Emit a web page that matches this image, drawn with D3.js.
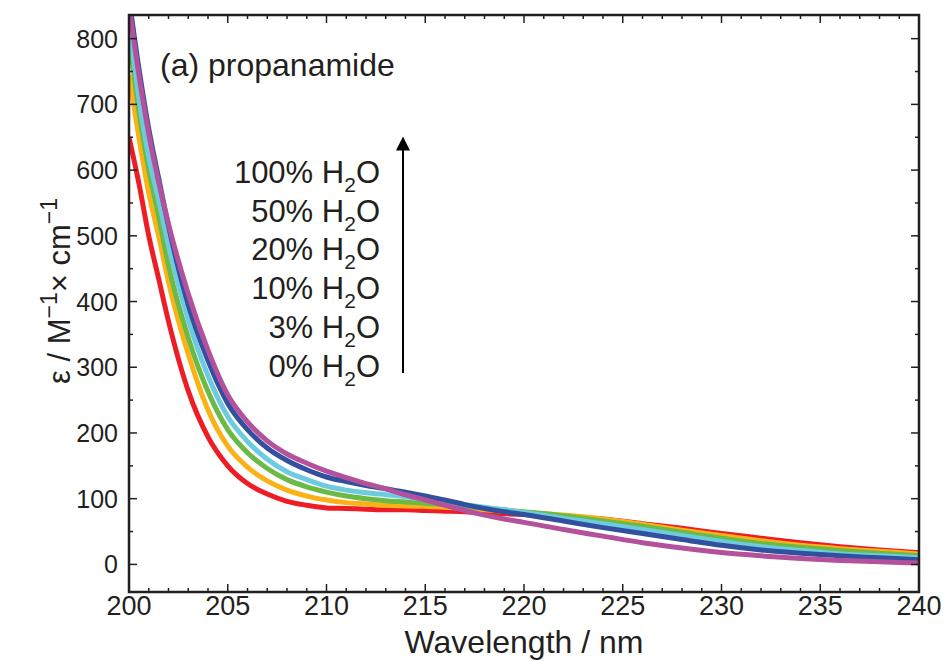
<!DOCTYPE html>
<html>
<head>
<meta charset="utf-8">
<script src="https://cdn.jsdelivr.net/npm/d3@7"></script>
<style>
  body { margin: 0; background: #fff; }
  svg { display: block; font-family: "Liberation Sans", Arial, sans-serif; }
</style>
</head>
<body>
<div id="chart"></div>
<script>
const width = 948;
const height = 661;

// wavelength (nm)
const wavelengths = [200, 200.5, 201, 201.5, 202, 203, 204, 205, 206, 207, 208, 209, 210, 211, 212, 213, 214, 215, 216, 217, 218, 219, 220, 222, 224, 226, 228, 230, 232, 234, 236, 238, 240];

// epsilon values, one array per water content
const water0 = [650, 580, 500, 435, 370, 264, 194, 150, 123, 107, 96, 90, 86, 85, 84, 83, 83, 82, 81, 80, 78, 77, 76, 73, 69, 62, 55, 47, 40, 33, 27, 22, 18];
const water3 = [745, 650, 565, 500, 430, 320, 235, 180, 148, 127, 113, 104, 98, 94, 92, 90, 89, 88, 87, 85, 83, 81, 79, 75, 69, 61, 52, 44, 36, 29, 24, 20, 16];
const water10 = [805, 690, 600, 530, 455, 345, 263, 205, 170, 146, 129, 118, 110, 104, 100, 97, 95, 93, 91, 88, 86, 83, 80, 74, 66, 58, 49, 40, 32, 26, 21, 17, 13];
const water20 = [830, 710, 620, 555, 485, 372, 287, 225, 187, 160, 141, 129, 119, 113, 109, 106, 103, 99, 95, 91, 87, 83, 79, 70, 62, 53, 44, 35, 27, 21, 16, 13, 10];
const water50 = [862, 755, 663, 588, 515, 395, 310, 245, 205, 177, 158, 144, 133, 126, 120, 115, 110, 104, 98, 91, 85, 80, 76, 66, 56, 47, 38, 29, 22, 17, 13, 10, 7];
const water100 = [850, 745, 655, 582, 518, 412, 326, 258, 217, 188, 168, 154, 142, 132, 123, 115, 106, 98, 90, 82, 75, 69, 64, 53, 43, 33, 25, 18, 13, 9, 6, 4, 2];

const seriesNames = ["0%", "3%", "10%", "20%", "50%", "100%"];
const seriesColors = ["#ee1c25", "#fbb216", "#6bba45", "#6dcbe0", "#33509f", "#b4519c"];
const seriesValues = [water0, water3, water10, water20, water50, water100];

const legendLabels = ["100%", "50%", "20%", "10%", "3%", "0%"];

const xTicks = [200, 205, 210, 215, 220, 225, 230, 235, 240];
const yTicks = [0, 100, 200, 300, 400, 500, 600, 700, 800];

const ink = "#231f20";

const svg = d3.select("#chart")
  .append("svg")
  .attr("width", width)
  .attr("height", height);

const x = d3.scaleLinear().domain([200, 240]).range([129, 919]);
const y = d3.scaleLinear().domain([-42, 836]).range([592, 15]);

const [x0, x1] = x.range();
const [y0, y1] = y.range();

svg.append("clipPath")
  .attr("id", "plot-clip")
  .append("rect")
  .attr("x", x0)
  .attr("y", y1)
  .attr("width", x1 - x0)
  .attr("height", y0 - y1);

// curves
const line = d3.line()
  .x(d => x(d.wl))
  .y(d => y(d.v))
  .curve(d3.curveMonotoneX);

const curves = svg.append("g").attr("clip-path", "url(#plot-clip)");

seriesValues.forEach((values, i) => {
  const data = wavelengths.map((wl, j) => ({ wl, v: values[j] }));
  curves.append("path")
    .datum(data)
    .attr("fill", "none")
    .attr("stroke", seriesColors[i])
    .attr("stroke-width", 5)
    .attr("stroke-linejoin", "round")
    .attr("d", line);
});

// ticks on all four sides, pointing inward
const ticksG = svg.append("g").attr("stroke", ink).attr("stroke-width", 1.5);

d3.range(200, 241, 1).forEach(v => {
  const len = v % 5 === 0 ? 8 : 4;
  ticksG.append("line").attr("x1", x(v)).attr("x2", x(v)).attr("y1", y0).attr("y2", y0 - len);
  ticksG.append("line").attr("x1", x(v)).attr("x2", x(v)).attr("y1", y1).attr("y2", y1 + len);
});

d3.range(0, 836, 50).forEach(v => {
  const len = v % 100 === 0 ? 8 : 4;
  ticksG.append("line").attr("x1", x0).attr("x2", x0 + len).attr("y1", y(v)).attr("y2", y(v));
  ticksG.append("line").attr("x1", x1).attr("x2", x1 - len).attr("y1", y(v)).attr("y2", y(v));
});

// frame
svg.append("rect")
  .attr("x", x0)
  .attr("y", y1)
  .attr("width", x1 - x0)
  .attr("height", y0 - y1)
  .attr("fill", "none")
  .attr("stroke", ink)
  .attr("stroke-width", 2.5);

// tick labels
svg.append("g")
  .selectAll("text")
  .data(xTicks)
  .join("text")
  .attr("x", d => x(d))
  .attr("y", 615)
  .attr("text-anchor", "middle")
  .attr("font-size", 27)
  .attr("fill", ink)
  .text(d => d);

svg.append("g")
  .selectAll("text")
  .data(yTicks)
  .join("text")
  .attr("x", 118)
  .attr("y", d => y(d))
  .attr("dy", "0.36em")
  .attr("text-anchor", "end")
  .attr("font-size", 25)
  .attr("fill", ink)
  .text(d => d);

// axis titles
svg.append("text")
  .attr("x", (x0 + x1) / 2)
  .attr("y", 653)
  .attr("text-anchor", "middle")
  .attr("font-size", 32)
  .attr("fill", ink)
  .text("Wavelength / nm");

const yTitle = svg.append("text")
  .attr("transform", `translate(70, 291) rotate(-90)`)
  .attr("text-anchor", "middle")
  .attr("font-size", 31)
  .attr("fill", ink);
yTitle.append("tspan").text("ε / M");
yTitle.append("tspan").attr("dy", -13).attr("font-size", 23).text("−1");
yTitle.append("tspan").attr("dy", 13).text("× cm");
yTitle.append("tspan").attr("dy", -13).attr("font-size", 23).text("−1");

// panel label
svg.append("text")
  .attr("x", 160)
  .attr("y", 76)
  .attr("font-size", 32)
  .attr("fill", ink)
  .text("(a) propanamide");

// legend
const legend = svg.append("g");
legendLabels.forEach((label, i) => {
  const t = legend.append("text")
    .attr("x", 380)
    .attr("y", 183 + i * 38.7)
    .attr("text-anchor", "end")
    .attr("font-size", 31)
    .attr("fill", ink);
  t.append("tspan").text(`${label} H`);
  t.append("tspan").attr("dy", 9).attr("font-size", 21).text("2");
  t.append("tspan").attr("dy", -9).text("O");
});

svg.append("defs")
  .append("marker")
  .attr("id", "arrow")
  .attr("viewBox", "0 0 10 10")
  .attr("refX", 9)
  .attr("refY", 5)
  .attr("markerWidth", 7)
  .attr("markerHeight", 7)
  .attr("orient", "auto")
  .append("path")
  .attr("d", "M0,0 L10,5 L0,10 Z")
  .attr("fill", "#000");

svg.append("line")
  .attr("x1", 403)
  .attr("x2", 403)
  .attr("y1", 373)
  .attr("y2", 138)
  .attr("stroke", "#000")
  .attr("stroke-width", 2)
  .attr("marker-end", "url(#arrow)");
</script>
</body>
</html>
